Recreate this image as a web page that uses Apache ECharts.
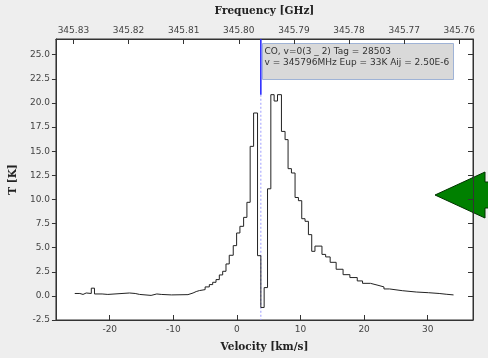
<!DOCTYPE html>
<html><head><meta charset="utf-8">
<script src="https://cdn.jsdelivr.net/npm/echarts@6/dist/echarts.min.js"></script>
<style>html,body{margin:0;padding:0;background:#eeeeee}#c{width:488px;height:358px}</style>
</head><body><div id="c"></div>
<script>
// Step-spectrum: left edge velocity of each (merged) channel and its temperature
const velocityEdges = [-25.5,-24.7,-24.2,-23.7,-22.9,-22.4,-21.2,-20.3,-16.9,-16.0,-15.3,-13.5,-12.6,-11.9,-10.3,-7.7,-6.9,-6.4,-5.9,-5.0,-4.34,-3.81,-3.29,-2.77,-2.24,-1.72,-1.21,-0.58,-0.05,0.47,1.05,1.57,2.08,2.62,3.24,3.76,4.28,4.81,5.33,5.85,6.38,7.0,7.57,8.04,8.57,9.14,9.67,10.19,10.71,11.24,11.76,12.27,13.37,13.95,14.66,15.6,16.69,17.76,18.92,19.75,21.0,22.18,23.12,23.98,26.0,28.2,30.1,31.8,32.9,34.06];
const temperatures = [0.25,0.15,0.3,0.25,0.8,0.2,0.15,0.3,0.25,0.15,0.05,0.2,0.15,0.1,0.13,0.3,0.45,0.55,0.65,0.93,1.17,1.41,1.69,2.17,2.55,3.31,4.21,5.21,6.52,7.21,8.14,9.70,15.5,18.96,4.17,-1.2,0.86,11.1,20.86,20.2,20.86,17.05,16.2,13.19,12.74,10.2,9.87,8.0,7.73,6.35,4.62,5.16,4.3,4.04,3.48,2.76,2.2,1.9,1.55,1.3,1.1,0.93,0.72,0.54,0.4,0.33,0.25,0.17,0.1,0.1];

// Transition marker
const restFreqGHz = 345.796;
const transitionVelocity = 3.76;
const markerSolidBottom = 20.85;
const annotationLines = ["CO, v=0(3 _ 2) Tag = 28503", "v = 345796MHz Eup = 33K Aij = 2.50E-6"];

// Axis ranges
const vMin = -28.46, vMax = 37.12;
const tMin = -2.5, tMax = 26.63, tInterval = 2.5;
const cKms = 299792.458;
const fAt = v => restFreqGHz * (1 - (v - transitionVelocity) / cKms);

const spectrum = velocityEdges.map((v, i) => [v, temperatures[i]]);
const markerSolid = [[transitionVelocity, tMax], [transitionVelocity, markerSolidBottom]];
const markerDotted = [[transitionVelocity, markerSolidBottom], [transitionVelocity, tMin]];

const labelFont = {fontFamily: 'DejaVu Sans', fontSize: 9, color: '#444'};
const nameFont = {fontFamily: 'DejaVu Serif', fontWeight: 'bold', fontSize: 10.5, color: '#222'};
const axLine = {show: true, onZero: false, lineStyle: {color: '#333'}};

const chart = echarts.init(document.getElementById('c'), null, {renderer: 'canvas'});
chart.setOption({
  backgroundColor: '#eeeeee',
  animation: false,
  grid: {left: 54, right: 15, top: 39, bottom: 37, show: true, backgroundColor: '#ffffff', borderColor: '#333', borderWidth: 1},
  xAxis: [
    {type: 'value', position: 'bottom', min: vMin, max: vMax, splitNumber: 5,
     name: 'Velocity [km/s]', nameLocation: 'middle', nameGap: 22, nameTextStyle: nameFont,
     axisLine: axLine, axisTick: {inside: true, length: 5, lineStyle: {color: '#333'}},
     axisLabel: Object.assign({margin: 5, showMinLabel: false, showMaxLabel: false}, labelFont),
     splitLine: {show: false}},
    {type: 'value', position: 'top', inverse: true, min: fAt(vMax), max: fAt(vMin), splitNumber: 7,
     name: 'Frequency [GHz]', nameLocation: 'middle', nameGap: 22, nameTextStyle: nameFont,
     axisLine: axLine, axisTick: {inside: true, length: 5, lineStyle: {color: '#333'}},
     axisLabel: Object.assign({margin: 4, showMinLabel: false, showMaxLabel: false, formatter: v => v.toFixed(2)}, labelFont),
     splitLine: {show: false}}
  ],
  yAxis: [
    {type: 'value', position: 'left', min: tMin, max: tMax, interval: tInterval,
     name: 'T [K]', nameLocation: 'middle', nameGap: 33, nameTextStyle: nameFont,
     axisLine: axLine, axisTick: {show: true, length: 4, lineStyle: {color: '#333'}},
     axisLabel: Object.assign({margin: 6, showMaxLabel: false, formatter: v => v.toFixed(1)}, labelFont),
     splitLine: {show: false}},
    {type: 'value', position: 'right', min: tMin, max: tMax, interval: tInterval,
     axisLine: axLine, axisTick: {show: true, inside: true, length: 5, lineStyle: {color: '#333'}},
     axisLabel: {show: false}, splitLine: {show: false}}
  ],
  series: [
    {type: 'line', xAxisIndex: 0, yAxisIndex: 0, data: markerDotted, symbol: 'none', silent: true,
     lineStyle: {color: '#9c9cff', width: 1, type: [2, 2]}},
    {type: 'line', xAxisIndex: 0, yAxisIndex: 0, data: markerSolid, symbol: 'none', silent: true,
     lineStyle: {color: '#2020ff', width: 1.5}},
    {type: 'line', xAxisIndex: 0, yAxisIndex: 0, data: spectrum, step: 'end', symbol: 'none',
     lineStyle: {color: '#222', width: 1}}
  ],
  graphic: [
    {type: 'group', left: 262, top: 43, children: [
      {type: 'rect', shape: {x: 0, y: 0, width: 191, height: 36},
       style: {fill: '#d9d9d9', stroke: '#9fb3d6', lineWidth: 1}},
      {type: 'text', x: 2, y: 3, style: {text: annotationLines.join('\n'), fill: '#333',
       font: '9px "DejaVu Sans"', lineHeight: 11}}
    ]},
    {type: 'polygon', shape: {points: [[435, 195], [485, 172], [485, 182], [492, 182], [492, 208], [485, 208], [485, 218]]},
     style: {fill: '#008000', stroke: '#003300', lineWidth: 1}}
  ]
});
</script></body></html>
